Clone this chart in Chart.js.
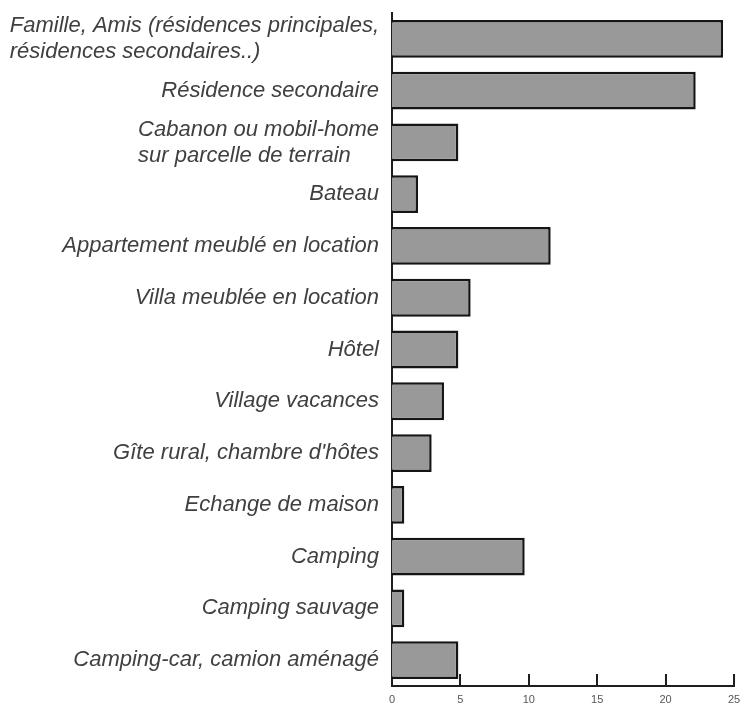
<!DOCTYPE html>
<html>
<head>
<meta charset="utf-8">
<script src="https://cdn.jsdelivr.net/npm/chart.js@4"></script>
<style>
  html, body { margin: 0; padding: 0; background: #ffffff; }
  #wrap { width: 743px; height: 710px; position: relative; }
</style>
</head>
<body>
<div id="wrap"><canvas id="c"></canvas></div>
<script>
const categories = [
  ["Famille, Amis (résidences principales,", "résidences secondaires..)"],
  ["Résidence secondaire"],
  ["Cabanon ou mobil-home", "sur parcelle de terrain"],
  ["Bateau"],
  ["Appartement meublé en location"],
  ["Villa meublée en location"],
  ["Hôtel"],
  ["Village vacances"],
  ["Gîte rural, chambre d'hôtes"],
  ["Echange de maison"],
  ["Camping"],
  ["Camping sauvage"],
  ["Camping-car, camion aménagé"]
];
const values = [24.2, 22.2, 4.85, 1.9, 11.6, 5.75, 4.85, 3.8, 2.9, 0.9, 9.7, 0.9, 4.85];
const xMin = 0;
const xMax = 25;
const xStep = 5;

const LABEL_FONT = "italic 22px 'Liberation Sans', Arial, sans-serif";
const LABEL_RIGHT = 379;
const LINE_H = 26;

const labelPlugin = {
  id: 'catLabels',
  afterDraw(chart) {
    const ctx = chart.ctx;
    const y = chart.scales.y;
    ctx.save();
    ctx.font = LABEL_FONT;
    ctx.fillStyle = '#404040';
    ctx.textAlign = 'left';
    ctx.textBaseline = 'middle';
    categories.forEach((lines, i) => {
      const cy = y.getPixelForValue(i);
      const w = Math.max(...lines.map(l => ctx.measureText(l).width));
      const x0 = LABEL_RIGHT - w;
      const y0 = cy - (lines.length - 1) * LINE_H / 2;
      lines.forEach((l, k) => ctx.fillText(l, x0, y0 + k * LINE_H));
    });
    ctx.restore();
  }
};

const tickPlugin = {
  id: 'innerTicks',
  afterDraw(chart) {
    const ctx = chart.ctx;
    const x = chart.scales.x;
    const bottom = chart.chartArea.bottom;
    ctx.save();
    ctx.strokeStyle = '#1e1e1e';
    ctx.lineWidth = 2;
    x.ticks.forEach(t => {
      if (t.value === xMin) return;
      const px = Math.round(x.getPixelForValue(t.value));
      ctx.beginPath();
      ctx.moveTo(px, bottom - 12);
      ctx.lineTo(px, bottom);
      ctx.stroke();
    });
    ctx.restore();
  }
};

new Chart(document.getElementById('c'), {
  type: 'bar',
  data: {
    labels: categories,
    datasets: [{
      data: values,
      backgroundColor: '#999999',
      borderColor: '#151515',
      borderWidth: 2.5,
      barPercentage: 0.73,
      categoryPercentage: 1.0
    }]
  },
  options: {
    indexAxis: 'y',
    responsive: true,
    maintainAspectRatio: false,
    animation: false,
    layout: { padding: { top: 13, right: 9, left: 0, bottom: 0 } },
    plugins: { legend: { display: false }, tooltip: { enabled: false } },
    scales: {
      x: {
        type: 'linear',
        min: xMin,
        max: xMax,
        ticks: {
          stepSize: xStep,
          color: '#555555',
          font: { family: "'Liberation Sans', Arial, sans-serif", size: 11 },
          padding: 7
        },
        grid: { display: false, drawTicks: false },
        border: { display: true, color: '#1e1e1e', width: 2 },
        afterFit(scale) { scale.height = 24; scale.paddingRight = 0; scale.paddingLeft = 0; }
      },
      y: {
        ticks: { display: false },
        grid: { display: false, drawTicks: false },
        border: { display: true, color: '#1e1e1e', width: 2 },
        afterFit(scale) { scale.width = 392; scale.paddingTop = 0; scale.paddingBottom = 0; }
      }
    }
  },
  plugins: [labelPlugin, tickPlugin]
});
</script>
</body>
</html>
